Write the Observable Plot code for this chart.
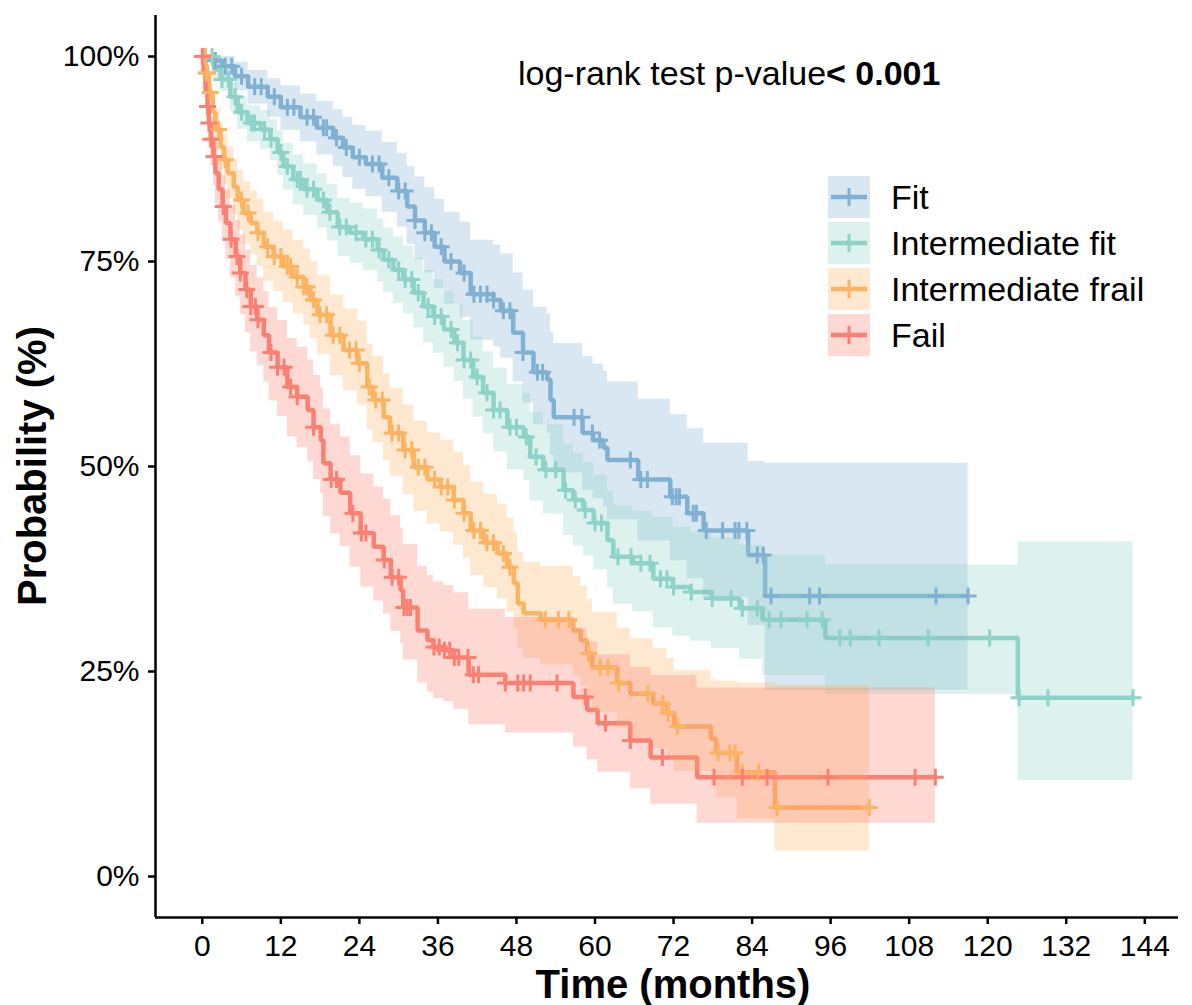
<!DOCTYPE html>
<html><head><meta charset="utf-8">
<script src="https://cdn.jsdelivr.net/npm/d3@7"></script>
<script src="https://cdn.jsdelivr.net/npm/@observablehq/plot@0.6"></script>
<style>
body{margin:0;background:#fff;}
#wrap{position:relative;width:1192px;height:1005px;font-family:"Liberation Sans",Arial,sans-serif;color:#000;}
#chart svg{display:block;}
#legend{position:absolute;left:828px;top:176px;}
.row{display:flex;align-items:center;height:42px;margin-bottom:4px;}
.row svg{display:block;}
.row span{font-size:34px;margin-left:21px;line-height:1;white-space:nowrap;}
#pval{position:absolute;left:518px;top:56px;font-size:34px;line-height:1;white-space:nowrap;}
#xtitle{position:absolute;left:673px;top:964px;transform:translateX(-50%);font-size:40px;font-weight:bold;line-height:1;white-space:nowrap;}
#ytitle{position:absolute;left:32px;top:466px;transform:translate(-50%,-50%) rotate(-90deg);font-size:40px;font-weight:bold;line-height:1;white-space:nowrap;}
</style></head>
<body>
<div id="wrap">
  <div id="chart"></div>
  <div id="pval">log-rank test p-value<b>&lt; 0.001</b></div>
  <div id="xtitle">Time (months)</div>
  <div id="ytitle">Probability (%)</div>
  <div id="legend"></div>
</div>
<script>
// ---------- data ----------
const groups = ["Fit", "Intermediate fit", "Intermediate frail", "Fail"];
const colors = ["#80B1D3", "#8DD3C7", "#FDB462", "#FB8072"];
const xTicks = [0, 12, 24, 36, 48, 60, 72, 84, 96, 108, 120, 132, 144];
const yTicks = [0, 25, 50, 75, 100];
const xDomain = [-7.15, 149.15];
const yDomain = [-5, 105];

// Fit
const fitTime = [0, 1.5, 3, 5, 7, 10, 12, 15, 17.5, 20, 21.5, 23, 25, 27.5, 29.8, 31.3, 32.5, 34, 35.5, 37, 39.4, 41, 44.5, 45.6, 47.5, 49, 50.6, 52.7, 53.2, 53.7, 58.1, 59.7, 61.3, 61.9, 66.6, 71.5, 74.1, 76.6, 83.4, 86.0, 117.0];
const fitSurv = [100, 99.5, 98.8, 97.6, 96.3, 95.1, 93.8, 92.6, 91.3, 90.1, 88.9, 87.7, 86.9, 85.2, 83.6, 81.7, 80.0, 78.5, 76.8, 75.0, 73.6, 71.0, 70.3, 69.0, 66.3, 63.9, 61.5, 60.6, 58.1, 56.0, 54.1, 53.2, 52.3, 50.8, 48.4, 46.3, 44.3, 42.2, 39.2, 34.2, 34.2];
const fitLower = [100, 98.5, 97.3, 95.8, 94.2, 92.6, 91.0, 89.6, 88.0, 86.6, 85.2, 83.8, 82.9, 81.0, 79.2, 77.1, 75.2, 73.6, 71.7, 69.8, 68.2, 65.4, 64.6, 63.2, 60.3, 57.7, 55.1, 54.1, 51.4, 49.2, 47.1, 46.1, 45.1, 43.5, 40.9, 38.5, 36.3, 34.0, 30.6, 22.7, 22.7];
const fitUpper = [100, 100, 100, 99.3, 98.3, 97.3, 96.4, 95.4, 94.5, 93.5, 92.6, 91.6, 90.9, 89.5, 88.2, 86.6, 85.3, 84.0, 82.6, 81.0, 79.8, 77.6, 77.0, 75.9, 73.6, 71.5, 69.4, 68.6, 66.4, 65.0, 63.4, 62.5, 61.6, 60.3, 58.2, 56.3, 54.6, 52.8, 50.6, 50.4, 50.4];
const fitCens = [0.5, 2, 3.5, 4.5, 6, 8, 9, 11, 13, 14, 16, 17, 18.5, 19, 20.5, 22, 24, 26, 27, 28.5, 30, 31, 32.5, 34, 35, 36.5, 38, 40, 41.5, 42.5, 43.5, 44.5, 46, 47, 49, 51.2, 52, 56.8, 58, 59.6, 60.7, 65.4, 67, 68, 71.8, 72.4, 72.9, 75, 75.5, 77, 79.5, 81.4, 82, 83.2, 84.8, 85.7, 86.9, 92.8, 94.3, 112.1, 117.0];

// Intermediate fit
const ifTime = [0, 1.8, 2.8, 4.3, 5.4, 6.9, 8.9, 10.4, 11.5, 12.4, 13.9, 15.5, 17.6, 19.1, 20.7, 22.6, 24.6, 26.8, 27.7, 29.2, 30.7, 32.3, 33.8, 35.3, 36.9, 38.5, 39.9, 41.4, 42.9, 44.5, 46.6, 49.1, 50.1, 52.1, 55.2, 56.7, 58.2, 59.8, 61.9, 62.8, 65.8, 68.9, 71.9, 74.6, 77.8, 82.1, 85.6, 95.2, 124.6, 142.2];
const ifSurv = [100, 98.4, 97.2, 95.1, 93.2, 91.9, 91.1, 89.9, 88.3, 86.6, 85.0, 83.8, 82.5, 81.0, 79.2, 78.5, 77.7, 76.4, 75.2, 74.0, 72.8, 71.2, 69.5, 68.3, 66.7, 65.1, 63.0, 60.9, 59.0, 56.9, 54.8, 53.6, 51.2, 49.6, 47.1, 45.9, 44.7, 43.1, 41.0, 39.0, 38.2, 36.3, 35.3, 34.7, 33.9, 32.7, 31.3, 29.1, 21.8, 21.8];
const ifLower = [100, 97.2, 95.7, 93.3, 91.1, 89.6, 88.7, 87.3, 85.5, 83.7, 81.9, 80.6, 79.1, 77.5, 75.6, 74.8, 73.9, 72.5, 71.2, 69.9, 68.6, 66.9, 65.1, 63.8, 62.1, 60.4, 58.2, 56.0, 54.0, 51.8, 49.6, 48.3, 45.8, 44.2, 41.6, 40.3, 39.1, 37.4, 35.2, 33.2, 32.3, 30.3, 29.3, 28.7, 27.8, 26.5, 24.5, 22.2, 11.7, 11.7];
const ifUpper = [100, 99.4, 98.5, 96.8, 95.1, 94.0, 93.4, 92.3, 90.9, 89.4, 88.0, 86.9, 85.7, 84.4, 82.7, 82.1, 81.4, 80.2, 79.1, 78.0, 76.9, 75.4, 73.9, 72.8, 71.3, 69.8, 67.8, 65.8, 64.0, 62.0, 60.0, 58.9, 56.6, 55.1, 52.7, 51.6, 50.5, 49.0, 47.0, 45.2, 44.5, 43.8, 42.6, 42.0, 41.3, 40.4, 39.2, 38.0, 40.8, 40.8];
const ifCens = [0.5, 1.5, 3, 4, 5, 6, 7.5, 8, 9.5, 10.5, 12, 13, 14.5, 15, 16, 17, 18.5, 19.5, 21, 22, 23.5, 25, 26, 27, 28.5, 30, 31, 32, 33, 34.5, 35.5, 36.5, 38, 39, 40, 41, 42, 43.5, 44.5, 45.5, 47, 48, 49.5, 51, 52.5, 54, 55.5, 57, 58.5, 60, 61, 63.5, 65.5, 67, 68.4, 70, 71, 72, 74.7, 77.9, 80.8, 82.5, 84.8, 86.6, 88.4, 92.4, 94.7, 97.4, 99, 103.4, 110.9, 120.3, 124.8, 129.2, 142.2];

// Intermediate frail
const ifrTime = [0, 0.5, 1.0, 1.6, 2.0, 2.8, 3.3, 3.9, 4.8, 5.4, 6.3, 7.4, 8.4, 9.4, 10.9, 12.4, 13.9, 15.5, 16.5, 17.6, 19.6, 21.6, 23.7, 25.2, 26.1, 27.7, 28.7, 30.7, 32.3, 34.4, 36.4, 38.4, 39.9, 41.0, 43.0, 45.1, 46.6, 47.6, 48.2, 49.1, 51.7, 56.7, 57.8, 58.8, 59.6, 63.4, 65.4, 68.9, 71.0, 72.1, 77.7, 78.5, 81.7, 87.5, 101.9];
const ifrSurv = [100, 98.0, 95.6, 93.2, 91.1, 89.0, 87.4, 85.8, 84.1, 82.5, 80.9, 79.7, 78.5, 76.8, 75.6, 74.4, 73.1, 71.9, 70.3, 68.5, 66.0, 64.2, 62.6, 59.7, 58.1, 56.0, 54.1, 52.0, 49.9, 48.4, 47.5, 45.9, 44.3, 42.2, 40.7, 39.4, 37.7, 35.8, 33.3, 32.1, 31.3, 30.0, 28.8, 27.2, 25.5, 23.6, 22.3, 21.1, 19.9, 18.3, 16.8, 15.1, 12.7, 8.4, 8.4];
const ifrLower = [100, 96.8, 93.8, 91.0, 88.6, 86.2, 84.4, 82.6, 80.7, 78.9, 77.1, 75.8, 74.4, 72.6, 71.3, 70.0, 68.6, 67.3, 65.6, 63.7, 61.1, 59.2, 57.5, 54.5, 52.9, 50.7, 48.8, 46.6, 44.5, 43.0, 42.0, 40.4, 38.8, 36.7, 35.2, 33.9, 32.2, 30.3, 27.8, 26.6, 25.8, 24.5, 23.2, 21.7, 20.0, 18.1, 16.8, 15.6, 14.4, 12.8, 11.1, 9.6, 7.0, 3.1, 3.1];
const ifrUpper = [100, 99.2, 97.4, 95.4, 93.6, 91.8, 90.4, 89.0, 87.5, 86.1, 84.7, 83.6, 82.6, 81.0, 79.9, 78.8, 77.6, 76.5, 75.0, 73.3, 70.9, 69.2, 67.7, 64.9, 63.4, 61.3, 59.5, 57.5, 55.5, 54.1, 53.2, 51.7, 50.1, 48.1, 46.6, 45.4, 43.7, 41.9, 39.5, 38.3, 37.8, 36.6, 35.4, 33.8, 32.2, 30.3, 29.0, 27.8, 26.6, 25.1, 24.0, 23.8, 23.6, 23.3, 23.3];
const ifrCens = [0.2, 0.4, 0.6, 0.8, 1.2, 2.5, 3.5, 6, 7, 8.5, 10, 11, 12, 13, 13.5, 14.5, 15.5, 16, 17, 18, 19, 20, 21, 22.5, 23.5, 24, 25.5, 26.5, 27.5, 29, 30, 31, 32, 33, 34, 35.5, 36.5, 37.5, 38.5, 40, 41.5, 42.5, 43.5, 44.5, 46, 47, 52.4, 54.4, 56, 59, 60.8, 62, 63.6, 68.1, 70.3, 71.2, 72.6, 78.8, 80.6, 81.4, 82.5, 85, 87.8, 101.9];

// Fail
const failTime = [0, 0.2, 0.5, 0.8, 1.0, 1.3, 1.7, 2.0, 2.5, 3.1, 3.6, 4.3, 5.1, 5.8, 6.6, 7.4, 8.4, 9.4, 10.2, 11.5, 13.0, 14.5, 16.1, 17.0, 18.1, 18.5, 19.6, 21.1, 22.6, 24.2, 26.2, 27.7, 28.8, 30.3, 30.7, 32.9, 34.4, 35.3, 36.9, 38.4, 40.7, 46.3, 56.7, 58.8, 60.4, 65.4, 68.5, 75.6, 112.0];
const failSurv = [100, 98.0, 95.9, 93.9, 91.9, 89.9, 87.8, 85.8, 83.8, 81.7, 79.7, 77.7, 75.6, 73.6, 71.6, 69.5, 67.9, 66.0, 63.9, 62.1, 59.7, 58.5, 56.9, 54.8, 53.2, 50.4, 48.4, 46.8, 44.3, 41.9, 40.2, 38.6, 36.5, 34.9, 32.8, 30.0, 28.8, 28.0, 27.6, 26.7, 24.6, 23.6, 21.9, 20.3, 18.7, 16.6, 14.5, 12.1, 12.1];
const failLower = [100, 96.5, 93.8, 91.3, 89.0, 86.7, 84.3, 82.0, 79.8, 77.4, 75.2, 73.0, 70.7, 68.5, 66.3, 64.0, 62.3, 60.3, 58.0, 56.1, 53.6, 52.3, 50.6, 48.4, 46.7, 43.9, 41.8, 40.2, 37.7, 35.3, 33.6, 32.0, 29.9, 28.4, 26.4, 23.6, 22.5, 21.7, 21.3, 20.4, 18.5, 17.5, 15.8, 14.2, 12.7, 10.7, 8.8, 6.5, 6.5];
const failUpper = [100, 99.3, 97.7, 96.0, 94.3, 92.6, 90.8, 89.0, 87.3, 85.5, 83.7, 81.9, 80.0, 78.2, 76.4, 74.5, 73.0, 71.3, 69.4, 67.8, 65.6, 64.5, 63.0, 61.1, 59.6, 57.0, 55.1, 53.6, 51.3, 49.1, 47.5, 46.0, 44.0, 42.5, 40.5, 37.8, 36.7, 35.9, 35.5, 34.6, 32.6, 31.6, 30.2, 28.6, 27.0, 25.5, 24.5, 23.0, 23.0];
const failCens = [0, 0.8, 1.0, 1.3, 1.8, 3.2, 4.4, 5.3, 5.8, 6.8, 7.4, 8.1, 8.5, 10.5, 11.5, 12.5, 13.5, 14.5, 17, 19.7, 20.5, 23, 24.3, 25, 27.8, 29, 30, 30.8, 31.3, 31.8, 35.4, 36.2, 37, 37.8, 38.5, 39.2, 40.6, 41.4, 42.2, 46.3, 48.2, 49.1, 50.1, 54.2, 58.5, 61.6, 65.4, 70.3, 78.2, 82.5, 86.3, 95.6, 108.9, 112.0];

// ---------- build tables ----------
const series = [
  [groups[0], fitTime, fitSurv, fitLower, fitUpper, fitCens],
  [groups[1], ifTime, ifSurv, ifLower, ifUpper, ifCens],
  [groups[2], ifrTime, ifrSurv, ifrLower, ifrUpper, ifrCens],
  [groups[3], failTime, failSurv, failLower, failUpper, failCens]
];
function survAt(times, surv, t) {
  let v = surv[0];
  for (let i = 0; i < times.length; i++) { if (times[i] <= t) v = surv[i]; else break; }
  return v;
}
const stepData = [], censData = [];
for (const [g, T, S, L, U, C] of series) {
  T.forEach((t, i) => stepData.push({group: g, time: t, surv: S[i], lower: L[i], upper: U[i]}));
  C.forEach(t => censData.push({group: g, time: t, surv: survAt(T, S, t)}));
}

const plusSym = {
  draw(ctx, size) {
    const r = Math.sqrt(size / Math.PI);
    ctx.moveTo(-r, 0); ctx.lineTo(r, 0);
    ctx.moveTo(0, -r); ctx.lineTo(0, r);
  }
};

const chart = Plot.plot({
  width: 1192, height: 1005,
  marginLeft: 155, marginRight: 14, marginTop: 15, marginBottom: 88,
  style: {fontFamily: "'Liberation Sans', Arial, sans-serif", background: "#fff", color: "#000", overflow: "visible"},
  x: {domain: xDomain, label: null},
  y: {domain: yDomain, label: null},
  color: {domain: groups, range: colors},
  marks: [
    Plot.line(stepData, {x: "time", y: "surv", z: "group", stroke: "group", curve: "step-after", strokeWidth: 4.5, strokeLinejoin: "miter"}),
    Plot.areaY(stepData, {x: "time", y1: "lower", y2: "upper", z: "group", fill: "group", fillOpacity: 0.3, curve: "step-after"}),
    Plot.dot(censData, {x: "time", y: "surv", stroke: "group", fill: "none", symbol: plusSym, r: 8.5, strokeWidth: 3}),
    Plot.ruleY([yDomain[0]], {stroke: "#000", strokeWidth: 2.5}),
    Plot.ruleX([xDomain[0]], {stroke: "#000", strokeWidth: 2.5}),
    Plot.axisX({ticks: xTicks, tickSize: 7, tickPadding: 10, fontSize: 30, strokeWidth: 2.5, color: "#000", label: null}),
    Plot.axisY({ticks: yTicks, tickFormat: d => d + "%", tickSize: 7, tickPadding: 9, fontSize: 30, strokeWidth: 2.5, color: "#000", label: null})
  ]
});
document.getElementById("chart").append(chart);

// legend
const legend = document.getElementById("legend");
groups.forEach((g, i) => {
  const row = document.createElement("div");
  row.className = "row";
  row.innerHTML = `<svg width="42" height="42"><rect x="0" y="0" width="42" height="42" fill="${colors[i]}" fill-opacity="0.3"></rect>` +
    `<line x1="3" x2="39" y1="21" y2="21" stroke="${colors[i]}" stroke-width="4.5"></line>` +
    `<line x1="21" x2="21" y1="12" y2="30" stroke="${colors[i]}" stroke-width="3"></line></svg><span>${g}</span>`;
  legend.append(row);
});
</script>
</body></html>
